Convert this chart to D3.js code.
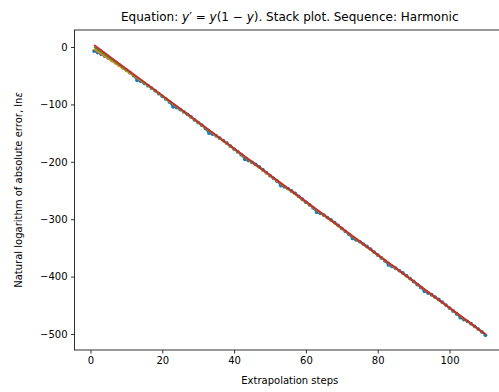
<!DOCTYPE html>
<html><head><meta charset="utf-8">
<script src="https://cdn.jsdelivr.net/npm/d3@7"></script>
<style>body{margin:0;background:#fff}svg{display:block;font-family:"DejaVu Sans",sans-serif}</style>
</head><body><div id="chart"></div>
<script>
// Data
const steps = d3.range(1, 111);
const blueValues = [-7,-9.6,-12.7,-15.9,-19.5,-23.1,-27.2,-31.4,-36,-40.1,
-44.7,-49.9,-58,-59.6,-63.2,-67.4,-71.5,-76.1,-81.2,-85.9,
-90.5,-95.6,-104.2,-105.4,-109,-113.1,-117.2,-121.8,-127,-131.6,
-136.2,-141.8,-150,-151.6,-154.7,-158.8,-163,-167.6,-172.7,-177.8,
-182.5,-187.6,-195.7,-197.8,-201,-204.6,-208.7,-213.8,-219,-224.1,
-228.7,-233.8,-241.4,-243.6,-246.7,-250.8,-254.9,-260.1,-265.2,-270.3,
-274.9,-280.1,-287.7,-289.8,-292.9,-297.1,-301.2,-305.8,-310.9,-316,
-321.2,-326.3,-333.4,-336,-339.2,-343.3,-347.4,-352,-357.2,-362.3,
-367.4,-372.5,-379.7,-382.3,-385.4,-389.5,-393.7,-398.3,-403.4,-408.5,
-413.7,-418.8,-425.4,-428.5,-431.6,-435.8,-439.9,-444.5,-449.6,-454.8,
-459.9,-465,-471.6,-474.8,-477.9,-482,-486.6,-491.3,-496.4,-502];
const lineX = [1, 15, 60, 110];
const orangeValues = [-3.5, -62.5, -270.6, -501];
const greenValues = [0, -61.8, -269.9, -500.8];
const redValues = [3.5, -61.2, -269.3, -500.5];
const xTicks = [0, 20, 40, 60, 80, 100];
const yTicks = [0, -100, -200, -300, -400, -500];

(function () {
const W = 499, H = 392;
const mL = 74.5, mR = 505, mT = 30, mB = 350;
const svg = d3.select("#chart").append("svg").attr("width", W).attr("height", H);

const xMin = 1, xMax = 110, yMin = -502.5, yMax = 4.3;
const xPad = (xMax - xMin) * 0.05, yPad = (yMax - yMin) * 0.05;
const x = d3.scaleLinear().domain([xMin - xPad, xMax + xPad]).range([mL, mR]);
const y = d3.scaleLinear().domain([yMin - yPad, yMax + yPad]).range([mB, mT]);

svg.append("clipPath").attr("id", "c").append("rect")
  .attr("x", mL).attr("y", mT).attr("width", mR - mL).attr("height", mB - mT);
const plot = svg.append("g").attr("clip-path", "url(#c)");

const line = d3.line().x(d => x(d[0])).y(d => y(d[1]));
const blueData = steps.map((s, i) => [s, blueValues[i]]);
plot.append("path").datum(blueData).attr("d", line).attr("fill", "none")
  .attr("stroke", "#1f77b4").attr("stroke-width", 1.8);
plot.selectAll("circle.b").data(blueData).enter().append("circle")
  .attr("cx", d => x(d[0])).attr("cy", d => y(d[1])).attr("r", 1.9).attr("fill", "#1f77b4");
[[orangeValues, "#ff7f0e"], [greenValues, "#2ca02c"], [redValues, "#d62728"]].forEach(([vals, c]) => {
  plot.append("path").datum(lineX.map((s, i) => [s, vals[i]])).attr("d", line)
    .attr("fill", "none").attr("stroke", c).attr("stroke-width", 1.8);
});

const xAxis = d3.axisBottom(x).tickValues(xTicks).tickSize(3.5).tickPadding(3.5).tickFormat(d3.format("d"));
const yAxis = d3.axisLeft(y).tickValues(yTicks).tickSize(3.5).tickPadding(3.5).tickFormat(d => d < 0 ? "\u2212" + Math.abs(d) : d);
const gx = svg.append("g").attr("transform", `translate(0,${mB})`).call(xAxis);
const gy = svg.append("g").attr("transform", `translate(${mL},0)`).call(yAxis);
[gx, gy].forEach(a => {
  a.selectAll("text").attr("font-size", 10).attr("font-family", "DejaVu Sans").attr("fill", "#000");
  a.selectAll("line").attr("stroke", "#000").attr("stroke-width", 0.8);
  a.select(".domain").remove();
});
svg.append("rect").attr("x", mL).attr("y", mT).attr("width", mR - mL).attr("height", mB - mT)
  .attr("fill", "none").attr("stroke", "#000").attr("stroke-width", 0.8);

const cx = (mL + mR) / 2;
svg.append("text").attr("x", cx).attr("y", 384).attr("text-anchor", "middle")
  .attr("font-size", 10).text("Extrapolation steps");
const yl = svg.append("text").attr("transform", `translate(22,${(mT + mB) / 2}) rotate(-90)`)
  .attr("text-anchor", "middle").attr("font-size", 10);
yl.append("tspan").text("Natural logarithm of absolute error, ln");
yl.append("tspan").attr("font-style", "italic").text("\u03b5");

const t = svg.append("text").attr("x", cx).attr("y", 21).attr("text-anchor", "middle").attr("font-size", 12);
t.append("tspan").text("Equation: ");
t.append("tspan").attr("font-style", "italic").text("y");
t.append("tspan").text("\u2032 = ");
t.append("tspan").attr("font-style", "italic").text("y");
t.append("tspan").text("(1 \u2212 ");
t.append("tspan").attr("font-style", "italic").text("y");
t.append("tspan").text("). Stack plot. Sequence: Harmonic");
})();
</script></body></html>
